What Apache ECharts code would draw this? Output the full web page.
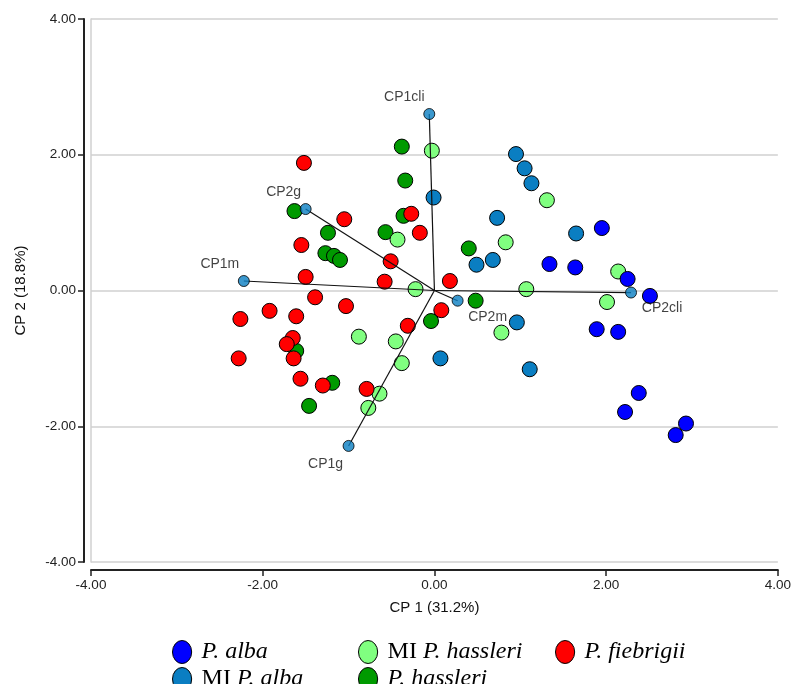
<!DOCTYPE html>
<html>
<head>
<meta charset="utf-8">
<script src="https://cdn.jsdelivr.net/npm/echarts@6/dist/echarts.min.js"></script>
<style>
  html, body { margin: 0; padding: 0; background: #fff; }
  #chart { width: 794px; height: 684px; }
</style>
</head>
<body>
<div id="chart"></div>
<script>
// PCA scores (CP 1, CP 2) for each group
const pAlba = [
  [1.95, 0.92], [1.34, 0.39], [1.64, 0.34], [2.25, 0.17], [2.51, -0.08],
  [1.89, -0.57], [2.14, -0.61], [2.38, -1.51], [2.22, -1.79], [2.93, -1.96], [2.81, -2.13]
];
const miPAlba = [
  [0.95, 2.01], [1.05, 1.80], [1.13, 1.58], [-0.01, 1.37], [0.73, 1.07], [1.65, 0.84],
  [0.68, 0.45], [0.49, 0.38], [0.96, -0.47], [0.07, -1.00], [1.11, -1.16]
];
const miPHassleri = [
  [-0.03, 2.06], [1.31, 1.33], [0.83, 0.71], [-0.43, 0.75], [2.14, 0.28], [1.07, 0.02],
  [-0.22, 0.02], [2.01, -0.17], [0.78, -0.62], [-0.88, -0.68], [-0.45, -0.75],
  [-0.38, -1.07], [-0.64, -1.52], [-0.77, -1.73]
];
const pHassleri = [
  [-0.38, 2.12], [-0.34, 1.62], [-0.36, 1.10], [-1.63, 1.17], [-1.24, 0.85], [-0.57, 0.86],
  [-1.27, 0.55], [-1.17, 0.51], [-1.10, 0.45], [0.40, 0.62], [0.48, -0.15], [-0.04, -0.45],
  [-1.61, -0.89], [-1.19, -1.36], [-1.46, -1.70]
];
const pFiebrigii = [
  [-1.52, 1.88], [-1.05, 1.05], [-0.27, 1.13], [-0.17, 0.85], [-1.55, 0.67], [-0.51, 0.43],
  [-1.50, 0.20], [-0.58, 0.13], [0.18, 0.14], [-1.39, -0.10], [-1.03, -0.23], [0.08, -0.29],
  [-0.31, -0.52], [-1.92, -0.30], [-2.26, -0.42], [-1.61, -0.38], [-1.65, -0.70],
  [-1.72, -0.79], [-1.64, -1.00], [-2.28, -1.00], [-1.56, -1.30], [-1.30, -1.40], [-0.79, -1.45]
];

// Variable loadings drawn as vectors from the origin
const loadingNames = ['CP1cli', 'CP2g', 'CP1m', 'CP2cli', 'CP2m', 'CP1g'];
const loadingX = [-0.06, -1.50, -2.22, 2.29, 0.27, -1.00];
const loadingY = [2.60, 1.20, 0.14, -0.03, -0.15, -2.29];

const axisTicks = [-4, -2, 0, 2, 4];

const labelOffsets = {
  CP1cli: [-25, -17], CP2g: [-22, -17], CP1m: [-24, -17],
  CP2cli: [31, 16], CP2m: [30, 16], CP1g: [-23, 18]
};

const colors = {
  'P. alba': '#0000FF',
  'MI P. alba': '#0A7EC2',
  'MI P. hassleri': '#80FF80',
  'P. hassleri': '#009A00',
  'P. fiebrigii': '#FF0000'
};

const sansFont = '"Liberation Sans", Arial, sans-serif';
const serifFont = '"Liberation Serif", "Times New Roman", serif';

function pointSeries(name, data) {
  return {
    name: name,
    type: 'scatter',
    data: data,
    symbol: 'circle',
    symbolSize: 15,
    itemStyle: { color: colors[name], borderColor: '#000', borderWidth: 1, opacity: 1 },
    emphasis: { disabled: true }
  };
}

const vectorLines = loadingNames.map((n, i) => ({ coords: [[0, 0], [loadingX[i], loadingY[i]]] }));
const vectorEnds = loadingNames.map((n, i) => ({
  name: n,
  value: [loadingX[i], loadingY[i]],
  label: { offset: labelOffsets[n] }
}));

const ellipseIcon = 'path://M0,12A10,12 0 1,1 20,12A10,12 0 1,1 0,12Z';

function legendBlock(items, left) {
  return {
    data: items,
    orient: 'vertical',
    left: left,
    top: 640,
    width: 190,
    height: 80,
    icon: ellipseIcon,
    itemWidth: 21,
    itemHeight: 23,
    itemGap: 3,
    padding: 0,
    selectedMode: false,
    itemStyle: { borderColor: '#000', borderWidth: 1 },
    formatter: function (name) {
      if (name.indexOf('MI ') === 0) {
        return '{g|}{r|MI }{i|' + name.slice(3) + '}';
      }
      return '{g|}{i|' + name + '}';
    },
    textStyle: {
      rich: {
        g: { width: 4, lineHeight: 23 },
        r: { fontFamily: serifFont, fontSize: 24, color: '#000', lineHeight: 23 },
        i: { fontFamily: serifFont, fontSize: 24, fontStyle: 'italic', color: '#000', lineHeight: 23 }
      }
    }
  };
}

const chart = echarts.init(document.getElementById('chart'), null, { renderer: 'canvas' });

chart.setOption({
  animation: false,
  backgroundColor: '#fff',
  grid: { left: 91, right: 16, top: 19, bottom: 122, containLabel: false },
  xAxis: {
    type: 'value',
    min: axisTicks[0],
    max: axisTicks[axisTicks.length - 1],
    interval: 2,
    offset: 8,
    name: 'CP 1 (31.2%)',
    nameLocation: 'middle',
    nameGap: 30,
    nameTextStyle: { fontFamily: sansFont, fontSize: 15, color: '#111' },
    axisLine: { show: true, onZero: false, lineStyle: { color: '#222', width: 2 } },
    axisTick: { show: true, length: 6, lineStyle: { color: '#222', width: 1.5 } },
    axisLabel: {
      fontFamily: sansFont, fontSize: 13.5, color: '#222', margin: 8,
      formatter: v => v.toFixed(2)
    },
    splitLine: { show: false }
  },
  yAxis: [
    {
      type: 'value',
      position: 'left',
      min: axisTicks[0],
      max: axisTicks[axisTicks.length - 1],
      interval: 2,
      offset: 7,
      name: 'CP 2 (18.8%)',
      nameLocation: 'middle',
      nameRotate: 90,
      nameGap: 56,
      nameTextStyle: { fontFamily: sansFont, fontSize: 15, color: '#111' },
      axisLine: { show: true, onZero: false, lineStyle: { color: '#222', width: 2 } },
      axisTick: { show: true, length: 6, lineStyle: { color: '#222', width: 1.5 } },
      axisLabel: {
        fontFamily: sansFont, fontSize: 13.5, color: '#222', margin: 8,
        formatter: v => v.toFixed(2)
      },
      splitLine: { show: true, lineStyle: { color: '#d0d0d0', width: 1.5 } }
    },
    {
      // plain frame line along the left edge of the plotting area
      type: 'value',
      position: 'left',
      min: axisTicks[0],
      max: axisTicks[axisTicks.length - 1],
      interval: 2,
      offset: 0,
      axisLine: { show: true, onZero: false, lineStyle: { color: '#d0d0d0', width: 1.5 } },
      axisTick: { show: false },
      axisLabel: { show: false },
      splitLine: { show: false }
    }
  ],
  legend: [
    legendBlock(['P. alba', 'MI P. alba'], 172),
    legendBlock(['MI P. hassleri', 'P. hassleri'], 358),
    legendBlock(['P. fiebrigii'], 555)
  ],
  series: [
    pointSeries('P. hassleri', pHassleri),
    pointSeries('MI P. hassleri', miPHassleri),
    pointSeries('MI P. alba', miPAlba),
    pointSeries('P. alba', pAlba),
    pointSeries('P. fiebrigii', pFiebrigii),
    {
      type: 'lines',
      coordinateSystem: 'cartesian2d',
      data: vectorLines,
      lineStyle: { color: '#111', width: 1.2, opacity: 1 },
      emphasis: { disabled: true },
      silent: true,
      z: 3
    },
    {
      type: 'scatter',
      data: vectorEnds,
      symbol: 'circle',
      symbolSize: 11,
      itemStyle: { color: colors['MI P. alba'], borderColor: '#000', borderWidth: 1 },
      label: {
        show: true,
        position: 'inside',
        formatter: p => p.name,
        fontFamily: sansFont,
        fontSize: 14,
        color: '#111'
      },
      emphasis: { disabled: true },
      z: 4
    }
  ]
});
</script>
</body>
</html>
